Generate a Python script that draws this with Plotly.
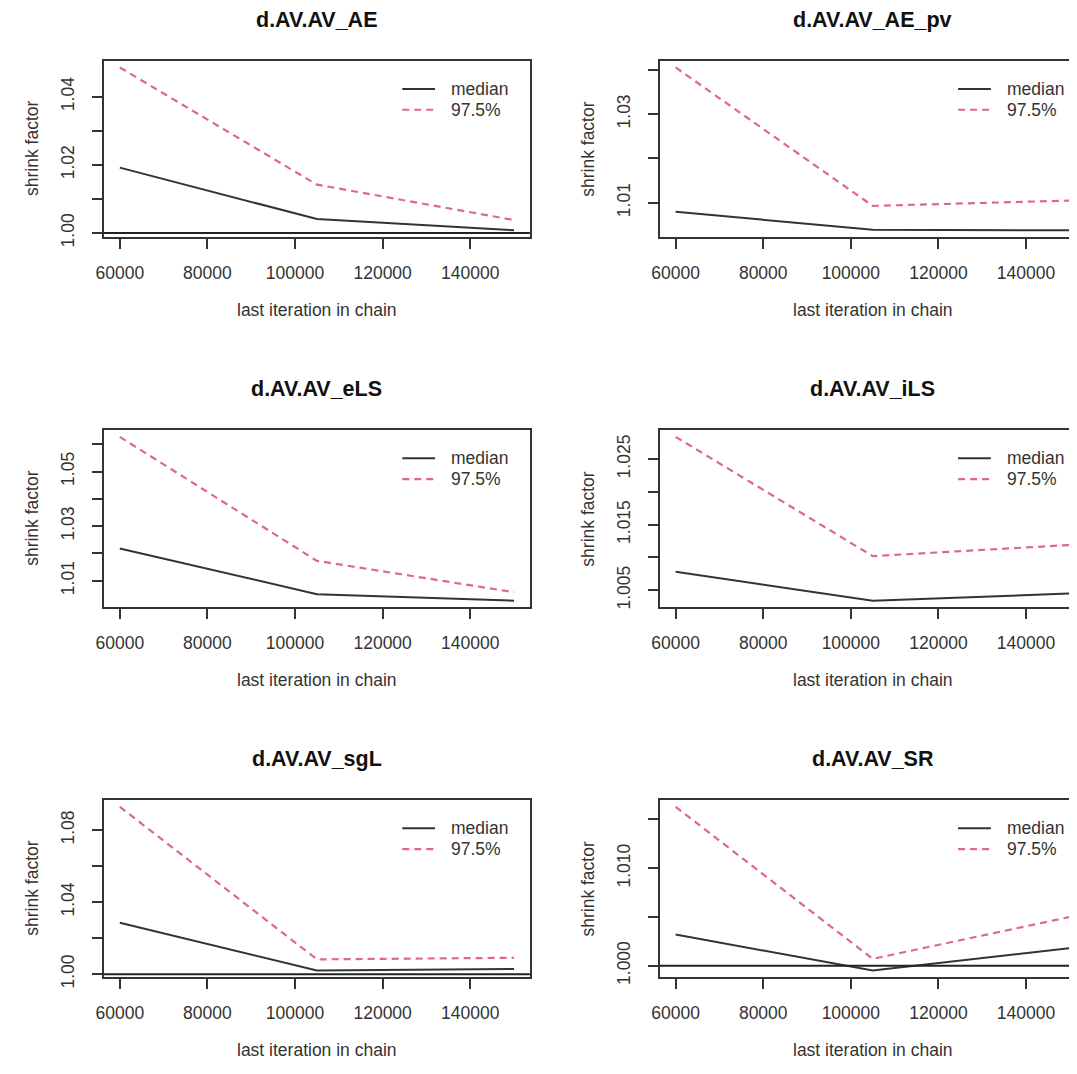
import plotly.graph_objects as go

# ---------------- data ----------------
last_iter = [60000, 105000, 150000]

panel_titles = ["d.AV.AV_AE", "d.AV.AV_AE_pv", "d.AV.AV_eLS",
                "d.AV.AV_iLS", "d.AV.AV_sgL", "d.AV.AV_SR"]

median_AE = [1.0192, 1.0041, 1.0008]
q975_AE = [1.0486, 1.0142, 1.0038]
median_AE_pv = [1.0080, 1.0039, 1.0038]
q975_AE_pv = [1.0405, 1.0093, 1.0105]
median_eLS = [1.0218, 1.0051, 1.0027]
q975_eLS = [1.0627, 1.0173, 1.0058]
median_iLS = [1.0078, 1.0034, 1.0045]
q975_iLS = [1.0284, 1.0102, 1.0119]
median_sgL = [1.0286, 1.0020, 1.0029]
q975_sgL = [1.0930, 1.0082, 1.0091]
median_SR = [1.0032, 0.9995, 1.0018]
q975_SR = [1.0163, 1.0007, 1.0050]

x_tick_vals = [60000, 80000, 100000, 120000, 140000]
x_tick_text = ["60000", "80000", "100000", "120000", "140000"]

y_ticks_AE = [1.00, 1.01, 1.02, 1.03, 1.04]
y_labels_AE = ["1.00", "", "1.02", "", "1.04"]
y_ticks_AE_pv = [1.01, 1.02, 1.03, 1.04]
y_labels_AE_pv = ["1.01", "", "1.03", ""]
y_ticks_eLS = [1.01, 1.02, 1.03, 1.04, 1.05, 1.06]
y_labels_eLS = ["1.01", "", "1.03", "", "1.05", ""]
y_ticks_iLS = [1.005, 1.010, 1.015, 1.020, 1.025]
y_labels_iLS = ["1.005", "", "1.015", "", "1.025"]
y_ticks_sgL = [1.00, 1.02, 1.04, 1.06, 1.08]
y_labels_sgL = ["1.00", "", "1.04", "", "1.08"]
y_ticks_SR = [1.000, 1.005, 1.010, 1.015]
y_labels_SR = ["1.000", "", "1.010", ""]

series_names = ["median", "97.5%"]
x_label = "last iteration in chain"
y_label = "shrink factor"

panels = [
    (median_AE, q975_AE, y_ticks_AE, y_labels_AE),
    (median_AE_pv, q975_AE_pv, y_ticks_AE_pv, y_labels_AE_pv),
    (median_eLS, q975_eLS, y_ticks_eLS, y_labels_eLS),
    (median_iLS, q975_iLS, y_ticks_iLS, y_labels_iLS),
    (median_sgL, q975_sgL, y_ticks_sgL, y_labels_sgL),
    (median_SR, q975_SR, y_ticks_SR, y_labels_SR),
]

# ---------------- layout geometry (pixels, page coords) ----------------
PAGE_W, PAGE_H = 1077, 1074
OFF = 8  # default body margin of the html page
W, H = PAGE_W - OFF, PAGE_H - OFF
FONT = "Liberation Sans, Arial, Helvetica, sans-serif"
TXT = "#333333"
BOX_W = 429.0
col_left = [96.7, 656.7]
row_top = [61.5, 434.7, 808.5]
row_bot = [239.2, 613.5, 987.2]

MED_COL = "#333333"
Q_COL = "#DD6A80"
Q_DASH = "7px,5px"

fig = go.Figure()
annotations = []
shapes = []


def px_x(p):
    return (p - OFF) / W


def px_y(p):
    return 1 - (p - OFF) / H


for i, (med, q, yt, yl) in enumerate(panels):
    r, c = divmod(i, 2)
    n = i + 1
    xa = "x" if n == 1 else f"x{n}"
    ya = "y" if n == 1 else f"y{n}"

    left = col_left[c]
    right = min(left + BOX_W, PAGE_W)
    top, bot = row_top[r], row_bot[r]

    # R-style 4% extension of data range
    xmin, xmax = min(last_iter), max(last_iter)
    xpad = 0.04 * (xmax - xmin)
    x0 = xmin - xpad
    x1_full = xmax + xpad
    x1 = x0 + (x1_full - x0) * (right - left) / BOX_W

    allv = med + q
    ymin, ymax = min(allv), max(allv)
    ypad = 0.04 * (ymax - ymin)
    y0, y1 = ymin - ypad, ymax + ypad

    fig.add_trace(go.Scatter(
        x=last_iter, y=med, mode="lines", name=series_names[0],
        line=dict(color=MED_COL, width=2), xaxis=xa, yaxis=ya,
        showlegend=False))
    fig.add_trace(go.Scatter(
        x=last_iter, y=q, mode="lines", name=series_names[1],
        line=dict(color=Q_COL, width=2.2, dash=Q_DASH), xaxis=xa, yaxis=ya,
        showlegend=False))

    axis_common = dict(
        showgrid=False, zeroline=False, showline=True, linecolor="#333333",
        linewidth=2, ticks="outside", ticklen=10, tickwidth=2,
        tickcolor="#333333", tickfont=dict(family=FONT, size=17.5, color=TXT),
    )
    fig.update_layout({
        ("xaxis" if n == 1 else f"xaxis{n}"): dict(
            axis_common, domain=[px_x(left), px_x(right)], range=[x0, x1],
            anchor=ya, mirror=True, tickvals=x_tick_vals, ticktext=x_tick_text,
            ticklabelstandoff=9),
        ("yaxis" if n == 1 else f"yaxis{n}"): dict(
            axis_common, domain=[px_y(bot), px_y(top)], range=[y0, y1],
            anchor=xa, mirror=(c == 0), tickvals=yt, ticktext=yl,
            tickangle=-90, ticklabelstandoff=11),
    })

    # abline h = 1
    if y0 <= 1 <= y1:
        shapes.append(dict(type="line", xref=f"{xa} domain", yref=ya,
                           x0=0, x1=1, y0=1, y1=1,
                           line=dict(color="#222222", width=2)))

    # legend (top right inside the box)
    for k, (name, col, dash, dy) in enumerate([
            (series_names[0], MED_COL, "solid", 28.3),
            (series_names[1], Q_COL, Q_DASH, 49.3)]):
        shapes.append(dict(type="line", xref="paper", yref="paper",
                           x0=px_x(left + 300.5), x1=px_x(left + 333.5),
                           y0=px_y(top + dy), y1=px_y(top + dy),
                           line=dict(color=col, width=2 if k == 0 else 2.2, dash=dash)))
        annotations.append(dict(
            text=name, x=px_x(left + 347.5), y=px_y(top + dy),
            xref="paper", yref="paper", xanchor="left", yanchor="middle",
            showarrow=False, font=dict(family=FONT, size=17.5, color=TXT)))

    full_center = left + BOX_W / 2
    annotations.append(dict(
        text=panel_titles[i], x=px_x(full_center), y=px_y(top - 41.5),
        xref="paper", yref="paper", xanchor="center", yanchor="middle",
        showarrow=False, font=dict(family=FONT, size=21.5, color="#111111", weight="bold")))
    annotations.append(dict(
        text=x_label, x=px_x(full_center), y=px_y(bot + 73.5),
        xref="paper", yref="paper", xanchor="center", yanchor="middle",
        showarrow=False, font=dict(family=FONT, size=17.5, color=TXT)))
    annotations.append(dict(
        text=y_label, x=px_x(left - 72.5), y=px_y((top + bot) / 2),
        xref="paper", yref="paper", xanchor="center", yanchor="middle",
        textangle=-90, showarrow=False, font=dict(family=FONT, size=17.5, color=TXT)))

fig.update_layout(
    width=W, height=H,
    margin=dict(l=0, r=0, t=0, b=0),
    paper_bgcolor="white", plot_bgcolor="white",
    annotations=annotations, shapes=shapes,
    font=dict(family=FONT, color=TXT),
    showlegend=False,
)

fig.write_html("out.html")
